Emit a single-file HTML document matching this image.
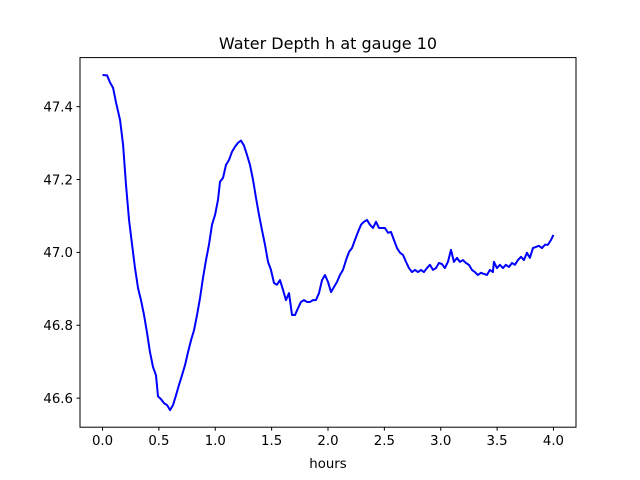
<!DOCTYPE html>
<html><head><meta charset="utf-8"><style>
body{margin:0;background:#fff;}
svg{display:block;font-family:"DejaVu Sans","Liberation Sans",sans-serif;}
</style></head><body>
<svg id="chart" width="640" height="480">
<rect x="0" y="0" width="640" height="480" fill="#fff"/>
<text x="328" y="49" font-size="16" text-anchor="middle">Water Depth h at gauge 10</text>
<text x="328" y="468" font-size="13.3" text-anchor="middle">hours</text>
<g id="xticks"></g>
<g id="yticks"></g>
<path id="line" fill="none" stroke="#0000ff" stroke-width="2" stroke-linejoin="round"/>
<rect x="80" y="57.6" width="496" height="369.6" fill="none" stroke="#000" stroke-width="1"/>
</svg>
<script>
const hours=[0.0,0.04,0.067,0.093,0.12,0.155,0.182,0.208,0.235,0.262,0.288,0.315,0.341,0.368,0.395,0.421,0.448,0.474,0.492,0.519,0.546,0.572,0.599,0.625,0.652,0.678,0.705,0.732,0.758,0.785,0.812,0.838,0.865,0.891,0.918,0.944,0.971,0.998,1.024,1.042,1.069,1.095,1.122,1.148,1.175,1.202,1.228,1.255,1.281,1.308,1.335,1.361,1.388,1.414,1.441,1.468,1.494,1.521,1.547,1.574,1.601,1.627,1.654,1.681,1.707,1.734,1.76,1.787,1.814,1.84,1.867,1.893,1.92,1.947,1.973,2.0,2.027,2.053,2.08,2.106,2.133,2.16,2.186,2.213,2.239,2.266,2.293,2.319,2.346,2.372,2.399,2.426,2.452,2.479,2.505,2.532,2.559,2.585,2.612,2.639,2.665,2.692,2.718,2.745,2.772,2.798,2.825,2.851,2.878,2.904,2.931,2.958,2.984,3.011,3.037,3.064,3.091,3.117,3.144,3.17,3.197,3.224,3.25,3.277,3.303,3.33,3.357,3.383,3.41,3.436,3.463,3.472,3.499,3.525,3.552,3.578,3.605,3.632,3.658,3.685,3.712,3.738,3.765,3.791,3.818,3.845,3.871,3.898,3.924,3.951,3.978,4.0];
const depth=[47.487,47.486,47.466,47.452,47.411,47.364,47.296,47.186,47.089,47.021,46.957,46.902,46.869,46.828,46.779,46.726,46.685,46.663,46.605,46.597,46.586,46.581,46.567,46.581,46.608,46.636,46.663,46.691,46.726,46.759,46.787,46.828,46.875,46.930,46.979,47.021,47.076,47.103,47.144,47.194,47.205,47.240,47.254,47.276,47.290,47.301,47.307,47.293,47.268,47.240,47.199,47.150,47.103,47.062,47.021,46.974,46.952,46.916,46.911,46.924,46.897,46.869,46.888,46.828,46.828,46.847,46.864,46.869,46.864,46.864,46.869,46.869,46.888,46.924,46.938,46.919,46.891,46.905,46.919,46.938,46.952,46.979,47.001,47.012,47.034,47.056,47.076,47.084,47.089,47.076,47.067,47.084,47.067,47.067,47.067,47.054,47.056,47.034,47.012,46.999,46.993,46.974,46.957,46.946,46.952,46.946,46.952,46.946,46.957,46.966,46.952,46.957,46.971,46.968,46.957,46.974,47.007,46.974,46.985,46.974,46.979,46.971,46.966,46.952,46.946,46.938,46.944,46.941,46.938,46.952,46.946,46.974,46.957,46.966,46.957,46.966,46.960,46.971,46.966,46.979,46.988,46.979,46.999,46.985,47.012,47.015,47.018,47.012,47.021,47.021,47.034,47.048];
const xTickValues=[0,0.5,1,1.5,2,2.5,3,3.5,4];
const xTickLabels=["0.0","0.5","1.0","1.5","2.0","2.5","3.0","3.5","4.0"];
const yTickValues=[46.6,46.8,47.0,47.2,47.4];
const yTickLabels=["46.6","46.8","47.0","47.2","47.4"];
const L=80,R=576,T=57.6,B=427.2;
const xMin=-0.2,xMax=4.2,yMin=46.5202,yMax=47.5347;
const sx=v=>L+(v-xMin)/(xMax-xMin)*(R-L);
const sy=v=>B-(v-yMin)/(yMax-yMin)*(B-T);
const NS="http://www.w3.org/2000/svg";
const xg=document.getElementById('xticks'),yg=document.getElementById('yticks');
xTickValues.forEach((v,i)=>{
 const x=sx(v);
 const l=document.createElementNS(NS,'line');
 l.setAttribute('x1',x);l.setAttribute('x2',x);l.setAttribute('y1',B);l.setAttribute('y2',B+3.5);l.setAttribute('stroke','#000');
 
 
 xg.appendChild(l);
 const t=document.createElementNS(NS,'text');
 t.setAttribute('x',x);t.setAttribute('y',B+18);t.setAttribute('font-size','13.3');t.setAttribute('text-anchor','middle');
 t.textContent=xTickLabels[i];
 
 
 xg.appendChild(t);
});
yTickValues.forEach((v,i)=>{
 const y=sy(v);
 const l=document.createElementNS(NS,'line');
 l.setAttribute('x1',L-3.5);l.setAttribute('x2',L);l.setAttribute('y1',y);l.setAttribute('y2',y);l.setAttribute('stroke','#000');
 
 
 yg.appendChild(l);
 const t=document.createElementNS(NS,'text');
 t.setAttribute('x',L-7);t.setAttribute('y',y+4.8);t.setAttribute('font-size','13.3');t.setAttribute('text-anchor','end');
 t.textContent=yTickLabels[i];
 
 
 yg.appendChild(t);
});
document.getElementById('line').setAttribute('d',hours.map((h,i)=>(i?'L':'M')+sx(h).toFixed(2)+','+sy(depth[i]).toFixed(2)).join(''));
</script>
</body></html>
